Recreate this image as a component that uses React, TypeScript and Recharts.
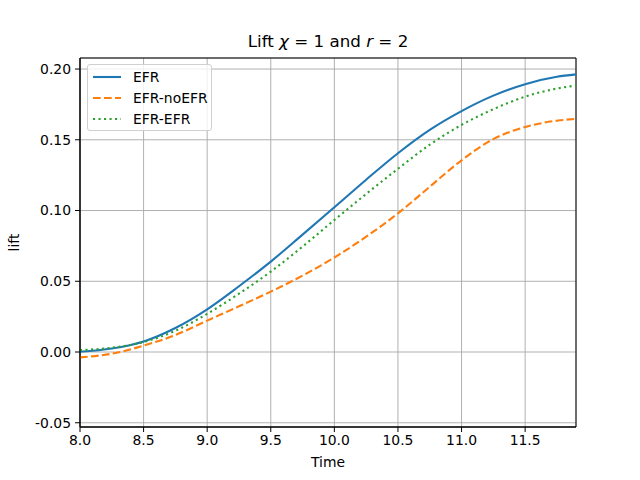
import { LineChart, Line, XAxis, YAxis, CartesianGrid, ReferenceArea, Label } from 'recharts'

// values
const times = [8.0, 8.25, 8.5, 8.75, 9.0, 9.25, 9.5, 9.75, 10.0, 10.25, 10.5, 10.75, 11.0, 11.25, 11.5, 11.75, 11.9]
const efr = [0.0002, 0.0025, 0.0075, 0.017, 0.0302, 0.0465, 0.0639, 0.083, 0.1023, 0.1218, 0.1405, 0.157, 0.1703, 0.1812, 0.1893, 0.1945, 0.1962]
const efrNoEfr = [-0.0038, -0.0012, 0.0045, 0.012, 0.0222, 0.0323, 0.0427, 0.054, 0.0668, 0.0815, 0.098, 0.1168, 0.1355, 0.1505, 0.159, 0.1635, 0.1648]
const efrEfr = [0.0014, 0.003, 0.007, 0.015, 0.027, 0.0412, 0.0568, 0.0745, 0.0933, 0.1117, 0.1295, 0.1465, 0.1605, 0.1716, 0.1805, 0.1862, 0.1884]

const xTicks = [8.0, 8.5, 9.0, 9.5, 10.0, 10.5, 11.0, 11.5]
const yTicks = [-0.05, 0.0, 0.05, 0.1, 0.15, 0.2]
const xDomain = [8.0, 11.9]
const yDomain = [-0.053, 0.2078]

const series = [
  { key: 'efr', name: 'EFR', color: '#1f77b4', dash: undefined },
  { key: 'efrNoEfr', name: 'EFR-noEFR', color: '#ff7f0e', dash: '7.7 3.3' },
  { key: 'efrEfr', name: 'EFR-EFR', color: '#2ca02c', dash: '2.1 3.4' },
]

const data = times.map((t, i) => ({ t, efr: efr[i], efrNoEfr: efrNoEfr[i], efrEfr: efrEfr[i] }))

const font = '"DejaVu Sans", sans-serif'
const tickStyle = { fontSize: 13.9, fill: '#000', fontFamily: font }

const LegendBox = () => (
  <div
    style={{
      position: 'absolute',
      left: 87,
      top: 64,
      width: 125,
      height: 67,
      boxSizing: 'border-box',
      border: '1px solid #d0d0d0',
      borderRadius: 3,
      background: 'rgba(255,255,255,0.8)',
      padding: '2px 0 0 5px',
      fontFamily: font,
      fontSize: 13.9,
      color: '#000',
      whiteSpace: 'nowrap',
    }}
  >
    {series.map((s) => (
      <div key={s.key} style={{ display: 'flex', alignItems: 'center', height: 20.7 }}>
        <svg width={28} height={6} style={{ marginRight: 12, flex: 'none' }}>
          <line x1={0} y1={3} x2={28} y2={3} stroke={s.color} strokeWidth={2.1} strokeDasharray={s.dash} />
        </svg>
        <span>{s.name}</span>
      </div>
    ))}
  </div>
)

export default function App() {
  return (
    <div style={{ position: 'fixed', left: 0, top: 0, width: 640, height: 480, background: '#fff' }}>
      <LineChart width={640} height={480} data={data} margin={{ top: 58, right: 64, bottom: 0, left: 0 }}>
        <CartesianGrid stroke="#a8a8a8" strokeWidth={0.9} />
        <XAxis
          dataKey="t"
          type="number"
          domain={xDomain}
          ticks={xTicks}
          tickFormatter={(v: number) => v.toFixed(1)}
          height={53}
          tick={tickStyle}
          tickSize={5}
          tickMargin={3}
          stroke="#000"
          allowDataOverflow
        >
          <Label value="Time" position="insideBottom" offset={13} style={{ fontSize: 13.9, fill: '#000', fontFamily: font }} />
        </XAxis>
        <YAxis
          type="number"
          domain={yDomain}
          ticks={yTicks}
          tickFormatter={(v: number) => v.toFixed(2)}
          width={80}
          tick={tickStyle}
          tickSize={5}
          tickMargin={4}
          stroke="#000"
          allowDataOverflow
        >
          <Label
            value="lift"
            angle={-90}
            position="insideLeft"
            offset={14}
            style={{ fontSize: 13.9, fill: '#000', fontFamily: font, textAnchor: 'middle' }}
          />
        </YAxis>
        <ReferenceArea x1={xDomain[0]} x2={xDomain[1]} y1={yDomain[0]} y2={yDomain[1]} fill="none" stroke="#000" strokeWidth={1} />
        {series.map((s) => (
          <Line
            key={s.key}
            dataKey={s.key}
            name={s.name}
            type="monotone"
            stroke={s.color}
            strokeWidth={2.1}
            strokeDasharray={s.dash}
            dot={false}
            activeDot={false}
            isAnimationActive={false}
          />
        ))}
      </LineChart>
      <div
        style={{
          position: 'absolute',
          left: 80,
          width: 496,
          top: 30,
          textAlign: 'center',
          fontFamily: font,
          fontSize: 16.7,
          lineHeight: '22px',
          color: '#000',
        }}
      >
        Lift <i>χ</i> = 1 and <i>r</i> = 2
      </div>
      <LegendBox />
    </div>
  )
}
